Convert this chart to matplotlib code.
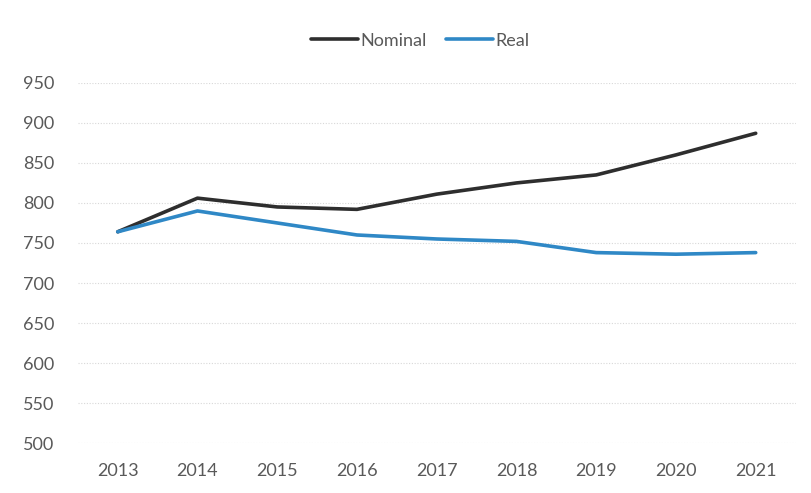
import matplotlib
matplotlib.use("Agg")
import matplotlib.pyplot as plt

years = ["2013", "2014", "2015", "2016", "2017", "2018", "2019", "2020", "2021"]
nominal = [764, 806, 795, 792, 811, 825, 835, 860, 887]
real = [764, 790, 775, 760, 755, 752, 738, 736, 738]
y_ticks = [500, 550, 600, 650, 700, 750, 800, 850, 900, 950]

plt.rcParams["font.family"] = ["Lato", "DejaVu Sans"]

fig = plt.figure(figsize=(8.11, 4.93), dpi=100)
ax = fig.add_axes([0.096, 0.101, 0.885, 0.731])

x = range(len(years))
ax.plot(x, nominal, color="#2e2e2e", lw=2.6, label="Nominal", solid_capstyle="round")
ax.plot(x, real, color="#2f88c6", lw=2.6, label="Real", solid_capstyle="round")

ax.set_xlim(-0.5, len(years) - 0.5)
ax.set_ylim(500, 950)
ax.set_yticks(y_ticks)
ax.set_xticks(list(x))
ax.set_xticklabels(years)

for s in ax.spines.values():
    s.set_visible(False)
ax.tick_params(length=0, labelsize=13, colors="#595959")
ax.tick_params(axis="y", pad=17)
ax.tick_params(axis="x", pad=14)
ax.yaxis.grid(True, color="#d8d8d8", lw=0.8, linestyle=(0, (1, 1.5)))
ax.set_axisbelow(True)

leg = ax.legend(loc="center", bbox_to_anchor=(0.477, 1.117), ncol=2, frameon=False,
                fontsize=13, handlelength=2.6, handletextpad=0.1, columnspacing=1.1)
for t in leg.get_texts():
    t.set_color("#595959")

fig.savefig("out.png", dpi=100, facecolor="white")
